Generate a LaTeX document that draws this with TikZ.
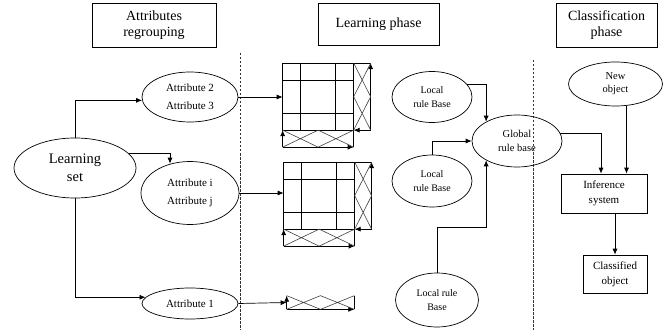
\documentclass[tikz,border=0pt]{standalone}
\usepackage{fontspec}
\setmainfont{Liberation Serif}
\usetikzlibrary{arrows.meta,shapes.geometric}
\begin{document}
\begin{tikzpicture}[x=1pt,y=-1pt,
  line width=0.7pt,
  arr/.style={-{Latex[length=6pt,width=5pt]}},
  sarr/.style={-{Latex[length=6pt,width=5pt]}},
  zig/.style={line width=0.6pt, black!75},
  hdr/.style={draw, rectangle, align=center, inner sep=0pt, font=\fontsize{14}{16}\selectfont},
  ell/.style={draw, ellipse, inner sep=0pt, align=center},
  box/.style={draw, rectangle, inner sep=0pt, align=center},
  sep/.style={dash pattern=on 2.5pt off 1.5pt, line width=0.6pt, black!80},
  gridpic/.pic={
    \draw (0,0) rectangle (71,67);
    \draw (18,0) -- (18,67) (53,0) -- (53,67) (0,17) -- (71,17) (0,50) -- (71,50);
    \draw (71,0) -- (88,0);
    \draw[sarr] (88,67) -- (88,0);
    \draw[sarr] (88,67) -- (71,67);
    \draw[zig] (71,0) -- (88,33.5) -- (71,67) (88,0) -- (71,33.5) -- (88,67);
    \draw (71,67) -- (71,84);
    \draw[sarr] (0,84) -- (0,67);
    \draw[sarr] (0,84) -- (71,84);
    \draw[zig] (0,67) -- (35.5,84) -- (71,67) (0,84) -- (35.5,67) -- (71,84);
  }]
\useasboundingbox (0,0) rectangle (668,331);

% headers
\node[hdr, minimum width=124pt, minimum height=44pt] (hA) at (154,25) {Attributes\\regrouping};
\node[hdr, minimum width=121pt, minimum height=42pt] (hL) at (378.5,24) {Learning phase};
\node[hdr, minimum width=101pt, minimum height=44pt] (hC) at (606.5,25) {Classification\\phase};

% separators
\draw[sep] (240,53) -- (240,330);
\draw[sep] (533,60) -- (533,330);

% left column
\node[ell, minimum width=122pt, minimum height=60pt, font=\fontsize{14.5}{17.5}\selectfont] (ls) at (75,168) {Learning\\set};
\node[ell, minimum width=96pt, minimum height=50pt, font=\fontsize{11}{18}\selectfont] (a2) at (190,97) {Attribute 2\\Attribute 3};
\node[ell, minimum width=98pt, minimum height=63pt, font=\fontsize{11}{18}\selectfont] (ai) at (190,193) {Attribute i\\Attribute j};
\node[ell, minimum width=96pt, minimum height=31pt, font=\fontsize{11}{13}\selectfont] (a1) at (190,303.5) {Attribute 1};

\draw[arr] (ls.north) |- (a2.184);
\draw[arr] (ls.15) -| ([xshift=-20pt,yshift=-2.5pt]ai.north);
\draw[arr] (ls.south) |- (a1.172);

% grids
\node[minimum width=71pt, minimum height=67pt, inner sep=0pt] (g1) at (318.5,97) {};
\pic at (g1.north west) {gridpic};
\node[minimum width=71pt, minimum height=67pt, inner sep=0pt] (g2) at (319.5,196) {};
\pic at (g2.north west) {gridpic};
\node[minimum width=67pt, minimum height=13pt, inner sep=0pt] (st) at (320.5,302.5) {};
\draw (st.north east) -- (st.south east);
\draw[sarr] (st.south west) -- (st.north west);
\draw[sarr] (st.south west) -- (st.south east);
\draw[zig] (st.north west) -- (st.south) -- (st.north east) (st.south west) -- (st.north) -- (st.south east);

\draw[arr] (a2.east) -- (a2.east -| g1.west);
\draw[arr] (ai.east) -- (ai.east -| g2.west);
\draw[arr] (a1.east) -- (st.west);

% learning phase
\node[ell, minimum width=80pt, minimum height=51pt, font=\fontsize{10}{14}\selectfont] (lr1) at (432,97) {Local\\rule Base};
\node[ell, minimum width=80pt, minimum height=52pt, font=\fontsize{10}{14}\selectfont] (lr2) at (432,181) {Local\\rule Base};
\node[ell, minimum width=83pt, minimum height=54pt, font=\fontsize{10}{14}\selectfont] (lr3) at (437,300) {Local rule\\Base};
\node[ell, minimum width=90pt, minimum height=52pt, font=\fontsize{10.5}{14}\selectfont] (gl) at (517,141) {Global\\rule base};

\draw[arr] (lr1.20) -| (gl.148);
\draw[arr] (lr2.north) |- (gl.west);
\draw[arr] (lr3.north) -- ++(0,-45) -| (gl.212);

% classification phase
\node[ell, minimum width=94pt, minimum height=44pt, font=\fontsize{10.5}{13}\selectfont] (no) at (615.5,84) {New\\object};
\node[box, minimum width=86pt, minimum height=39pt, font=\fontsize{11}{15}\selectfont] (inf) at (604,193.5) {Inference\\system};
\node[box, minimum width=64pt, minimum height=38pt, font=\fontsize{11}{15}\selectfont] (cl) at (615,274) {Classified\\object};

\draw[arr] (gl.10) -| ([xshift=-3pt]inf.north);
\draw[arr] ([xshift=11pt]no.south) -- ([xshift=11pt]no.south |- inf.north);
\draw[arr] (inf.south -| cl.north) -- (cl.north);
\end{tikzpicture}
\end{document}
